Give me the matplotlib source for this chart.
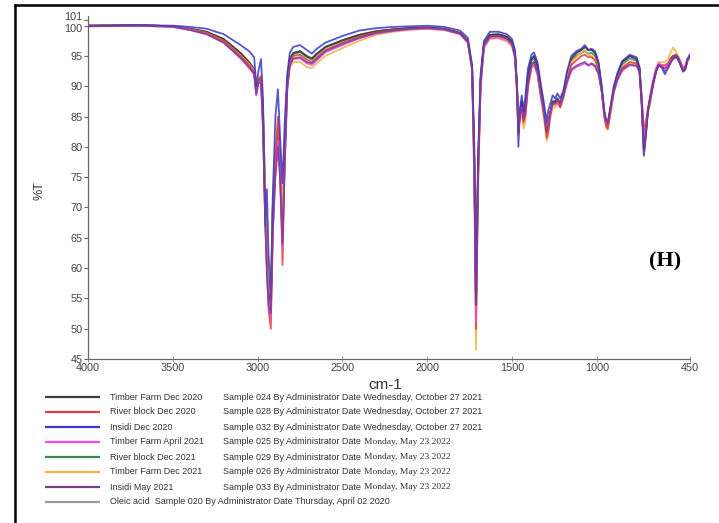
import matplotlib.pyplot as plt
from matplotlib.lines import Line2D
from matplotlib.transforms import ScaledTranslation

plt.rcParams['font.family'] = ['Liberation Sans', 'DejaVu Sans']

# FTIR spectra (%T against wavenumber, cm-1)
wavenumber = [
    4000, 3700, 3500, 3400, 3300, 3200, 3100, 3050, 3020, 3008,
    2995, 2980, 2968, 2955, 2945, 2935, 2922, 2910, 2895, 2880,
    2868, 2853, 2840, 2825, 2810, 2790, 2750, 2710, 2680, 2650,
    2600, 2500, 2400, 2300, 2200, 2100, 2000, 1900, 1806, 1760,
    1735, 1722, 1712, 1700, 1685, 1665, 1630, 1580, 1530, 1500,
    1482, 1470, 1462, 1452, 1442, 1432, 1422, 1405, 1385, 1370,
    1350, 1330, 1310, 1295, 1286, 1275, 1260, 1245, 1232, 1215,
    1195, 1175, 1150, 1120, 1090, 1070, 1050, 1030, 1010, 990,
    970, 955, 945, 935, 920, 900, 880, 850, 805, 765,
    748, 735, 722, 710, 698, 685, 668, 650, 635, 615,
    598, 580, 565, 550, 535, 520, 505, 490, 478, 465, 450]

timber_dec20 = [
    100.0, 100.1, 99.9, 99.5, 99.0, 97.8, 95.5, 94.0, 92.8, 89.5,
    91.0, 91.5, 86.0, 72.0, 62.0, 57.0, 54.0, 70.0, 78.0, 83.0,
    78.0, 66.0, 80.0, 91.0, 94.5, 95.5, 95.8, 95.0, 94.6, 95.4,
    96.5, 97.6, 98.5, 99.1, 99.4, 99.6, 99.7, 99.5, 98.8, 97.5,
    93.0, 78.0, 53.5, 76.0, 91.0, 97.0, 98.5, 98.6, 98.2, 97.4,
    95.5, 90.0, 82.5, 86.0, 87.5, 85.5, 86.5, 92.0, 94.5, 95.0,
    93.5, 89.5, 86.0, 82.5, 83.5, 85.5, 87.5, 87.5, 88.0, 87.2,
    89.0, 92.0, 94.5, 95.5, 96.0, 96.5, 96.0, 96.0, 95.5, 93.8,
    89.5, 85.5, 84.0, 83.5, 86.0, 89.5, 91.8, 94.0, 95.0, 94.5,
    93.0, 87.5, 79.5, 82.5, 86.0, 88.0, 90.5, 92.5, 93.5, 93.2,
    93.0, 93.5, 94.5, 95.0, 95.0, 94.5, 93.5, 92.5, 92.8, 94.2, 95.2]

river_dec20 = [
    100.0, 100.0, 99.9, 99.4, 98.8, 97.5, 95.0, 93.5, 92.3, 89.0,
    91.0, 91.5, 84.0, 68.0, 60.0, 53.0, 50.0, 66.0, 78.0, 85.0,
    79.0, 60.5, 78.0, 90.0, 94.0, 95.0, 95.2, 94.4, 94.0, 94.8,
    96.0, 97.2, 98.2, 98.9, 99.3, 99.5, 99.6, 99.4, 98.7, 97.3,
    93.0, 76.0, 50.0, 75.0, 90.5, 96.8, 98.2, 98.3, 97.8, 97.0,
    95.0, 89.5, 83.5, 86.0, 86.0, 84.0, 85.0, 90.5, 93.5, 94.0,
    92.5, 88.5, 85.0, 81.5, 82.5, 85.0, 87.0, 87.0, 87.5, 86.5,
    88.5, 91.0, 93.5, 94.3, 95.0, 95.2, 94.8, 94.8, 94.3, 92.8,
    89.0, 85.0, 83.5, 83.0, 85.5, 89.0, 91.0, 93.0, 94.0, 93.8,
    92.5, 88.0, 82.5, 84.0, 86.0, 87.5, 90.0, 92.5, 93.5, 93.5,
    93.5, 93.8, 94.5, 95.0, 95.2, 94.8, 94.0, 93.0, 93.2, 94.2, 94.8]

insidi_dec20 = [
    100.0, 100.1, 100.0, 99.8, 99.5, 98.6, 96.8, 95.8, 94.8, 90.0,
    92.5, 94.5, 88.0, 67.0, 73.0, 62.0, 55.0, 72.0, 85.0, 89.5,
    82.0, 74.0, 84.0, 92.0, 95.5, 96.5, 96.8, 96.0, 95.4, 96.2,
    97.2, 98.3, 99.2, 99.6, 99.8, 99.9, 100.0, 99.8, 99.2, 98.0,
    93.5, 80.0, 54.0, 78.0, 92.0, 97.5, 99.0, 99.0, 98.6, 97.8,
    96.0, 90.0, 80.0, 86.5, 88.5, 86.0, 88.0, 93.0, 95.2, 95.6,
    94.0, 90.5, 87.0, 84.0, 86.0, 87.0, 88.5, 88.0, 88.8, 88.0,
    89.5, 92.5, 95.0, 95.8, 96.2, 96.8, 96.0, 96.2, 95.8, 94.0,
    90.0, 86.0, 84.5, 84.0, 86.5, 90.0, 92.0, 94.2, 95.2, 94.8,
    93.2, 88.0, 78.8, 82.0, 86.0, 88.0, 90.5, 92.5, 93.5, 93.0,
    92.0, 93.0, 94.0, 94.5, 94.8, 94.5, 93.5, 92.5, 93.0, 94.5, 95.0]

timber_apr21 = [
    99.9, 100.0, 99.8, 99.3, 98.6, 97.2, 94.6, 93.0, 92.0, 88.8,
    90.5, 90.8, 83.0, 68.0, 60.0, 54.0, 52.0, 67.0, 76.0, 81.0,
    76.0, 63.0, 77.0, 89.5, 93.5, 94.5, 94.6, 93.8, 93.5, 94.3,
    95.6, 96.8, 97.9, 98.7, 99.1, 99.4, 99.5, 99.3, 98.6, 97.2,
    92.8, 75.0, 51.0, 74.0, 90.0, 96.5, 98.0, 98.0, 97.6, 96.8,
    94.8, 89.0, 84.0, 86.5, 86.5, 84.5, 85.0, 90.0, 93.0, 93.5,
    92.0, 88.5, 85.5, 83.0, 84.0, 85.5, 87.0, 87.0, 87.5, 87.0,
    88.5, 90.5, 92.5, 93.2, 93.5, 93.8, 93.4, 93.6, 93.2, 92.0,
    89.0, 85.5, 84.0, 83.8, 86.0, 89.0, 90.8, 92.5, 93.5, 93.3,
    92.3, 87.5, 81.0, 83.5, 86.5, 88.5, 91.0, 93.0, 93.8, 93.5,
    93.0, 93.5, 94.2, 94.5, 94.8, 94.5, 93.8, 93.0, 93.3, 94.5, 95.0]

river_dec21 = [
    100.0, 100.1, 99.9, 99.5, 98.9, 97.7, 95.3, 93.8, 92.6, 89.3,
    91.0, 91.3, 85.0, 71.0, 62.0, 57.0, 54.0, 70.0, 78.0, 82.5,
    77.5, 65.0, 79.5, 90.5, 94.3, 95.3, 95.6, 94.8, 94.4, 95.2,
    96.4, 97.5, 98.4, 99.0, 99.4, 99.6, 99.7, 99.5, 98.8, 97.5,
    93.0, 78.0, 53.0, 76.0, 91.0, 97.0, 98.4, 98.5, 98.1, 97.3,
    95.4, 89.8, 83.0, 86.0, 87.0, 85.0, 86.0, 91.5, 94.2, 94.6,
    93.2, 89.2, 85.8, 82.5, 83.5, 85.5, 87.3, 87.3, 87.8, 87.0,
    88.8, 91.5, 94.0, 95.0, 95.5, 95.8, 95.4, 95.5, 95.0, 93.4,
    89.3, 85.3, 83.8, 83.3, 85.8, 89.3, 91.5, 93.6, 94.6, 94.2,
    92.8, 87.8, 80.0, 83.0, 86.0, 88.0, 90.5, 92.5, 93.5, 93.3,
    93.0, 93.5, 94.5, 95.0, 95.0, 94.5, 93.5, 92.6, 92.9, 94.3, 95.2]

timber_dec21 = [
    100.0, 100.0, 99.9, 99.4, 98.8, 97.5, 95.1, 93.7, 92.6, 90.5,
    91.5, 91.8, 86.0, 73.0, 64.0, 58.0, 55.0, 72.0, 80.0, 84.0,
    79.0, 68.0, 81.0, 90.0, 93.0, 94.0, 94.0, 93.2, 93.0, 93.8,
    95.0, 96.3, 97.5, 98.5, 99.0, 99.3, 99.5, 99.3, 98.6, 97.2,
    92.5, 74.0, 46.5, 72.0, 89.5, 96.3, 97.8, 97.9, 97.4, 96.6,
    94.5, 88.0, 84.5, 85.5, 85.0, 83.0, 84.0, 89.5, 93.0, 93.5,
    92.0, 88.0, 84.5, 81.0, 82.0, 84.5, 86.5, 86.5, 87.2, 86.5,
    88.0, 91.5, 94.0, 94.8, 95.6, 96.0, 95.2, 95.0, 94.5, 93.0,
    88.8, 84.8, 83.2, 82.8, 85.2, 88.8, 91.2, 93.2, 94.0, 93.6,
    92.5, 88.5, 83.5, 84.5, 85.5, 87.0, 90.5, 93.0, 94.0, 94.0,
    94.0, 94.5, 95.5, 96.4, 95.8, 95.0, 94.0, 93.0, 93.5, 94.5, 95.0]

insidi_may21 = [
    99.9, 100.0, 99.8, 99.3, 98.6, 97.2, 94.7, 93.2, 92.0, 88.5,
    90.5, 90.8, 83.0, 68.0, 59.0, 54.0, 52.5, 66.0, 75.0, 80.0,
    75.0, 64.0, 77.0, 89.5, 93.5, 94.6, 94.8, 94.0, 93.8, 94.5,
    95.8, 97.0, 98.0, 98.8, 99.2, 99.5, 99.6, 99.4, 98.7, 97.3,
    93.0, 77.0, 54.0, 75.0, 90.5, 96.8, 98.2, 98.3, 97.9, 97.0,
    95.0, 89.5, 82.0, 85.5, 86.5, 84.5, 85.5, 90.5, 93.5, 94.0,
    92.5, 89.0, 85.5, 82.5, 83.5, 85.5, 87.2, 87.2, 87.8, 87.0,
    88.5, 90.8, 92.8, 93.4, 93.8, 94.0, 93.5, 93.8, 93.4, 92.2,
    89.2, 85.5, 84.2, 83.8, 86.2, 89.2, 91.0, 92.8, 93.6, 93.4,
    92.5, 87.0, 78.5, 82.0, 86.0, 88.0, 90.5, 92.5, 93.5, 93.2,
    92.5, 93.0, 93.8, 94.5, 95.2, 94.8, 93.5, 92.4, 92.8, 94.5, 95.2]

# oleic acid reference sits hidden under the sample traces
oleic_acid = list(timber_dec20)

sample_names = ['Timber Farm Dec 2020', 'River block Dec 2020', 'Insidi Dec 2020',
                'Timber Farm April 2021', 'River block Dec 2021', 'Timber Farm Dec 2021',
                'Insidi May 2021']
sample_info = ['Sample 024 By Administrator Date', 'Sample 028 By Administrator Date',
               'Sample 032 By Administrator Date', 'Sample 025 By Administrator Date',
               'Sample 029 By Administrator Date', 'Sample 026 By Administrator Date',
               'Sample 033 By Administrator Date']
sample_dates = ['Wednesday, October 27 2021', 'Wednesday, October 27 2021',
                'Wednesday, October 27 2021', 'Monday, May 23 2022', 'Monday, May 23 2022',
                'Monday, May 23 2022', 'Monday, May 23 2022']
oleic_label = 'Oleic acid  Sample 020 By Administrator Date Thursday, April 02 2020'

series = [timber_dec20, river_dec20, insidi_dec20, timber_apr21,
          river_dec21, timber_dec21, insidi_may21]
colors = ['#3a3a3a', '#e8383d', '#3838c8', '#e850e8', '#3c8c48', '#f5b042', '#7d3c8e']
oleic_color = '#9a9a9a'

fig = plt.figure(figsize=(7.19, 5.23), dpi=100)
ax = fig.add_axes([88 / 719, 1 - 359 / 523, 602 / 719, 343 / 523])

# drawing order so that the deeper traces land on top like the scan
ax.plot(wavenumber, oleic_acid, color=oleic_color, lw=1.3)
for i in [4, 0, 5, 1, 3, 2, 6]:
    ax.plot(wavenumber, series[i], color=colors[i], lw=1.3, alpha=0.85)

ax.set_xlim(4000, 450)
ax.set_ylim(45, 101.6)
ax.set_xticks([4000, 3500, 3000, 2500, 2000, 1500, 1000, 450])
ax.set_yticks([45, 50, 55, 60, 65, 70, 75, 80, 85, 90, 95, 100, 101])
for side in ['top', 'right']:
    ax.spines[side].set_visible(False)
for side in ['left', 'bottom']:
    ax.spines[side].set_color('#666666')
    ax.spines[side].set_linewidth(0.9)
ax.tick_params(axis='y', labelsize=7.8, labelcolor='#444444', color='#666666',
               length=3, width=0.8, pad=1)
ax.tick_params(axis='x', labelsize=7.8, labelcolor='#444444', color='#888888',
               direction='inout', length=4, width=0.6, pad=1)
ylabs = ax.get_yticklabels()
ylabs[-1].set_transform(ylabs[-1].get_transform() + ScaledTranslation(0, 4 / 100, fig.dpi_scale_trans))
ylabs[-2].set_transform(ylabs[-2].get_transform() + ScaledTranslation(0, -2 / 100, fig.dpi_scale_trans))

ax.set_ylabel('%T', fontsize=9, color='#333333')
ax.yaxis.set_label_coords(-0.07, 0.49)
ax.set_xlabel('cm-1', fontsize=11, color='#333333')
ax.xaxis.set_label_coords(0.493, -0.055)
ax.text(0.958, 0.283, '(H)', transform=ax.transAxes, ha='center', va='center',
        fontsize=16, fontweight='bold', family=['Liberation Serif', 'DejaVu Serif'])

# legend block below the axes, in pixel coordinates
lax = fig.add_axes([0, 0, 1, 1])
lax.set_xlim(0, 719)
lax.set_ylim(523, 0)
lax.axis('off')
row_y = [397, 412, 427, 442, 457, 472, 487, 502]
for i in range(7):
    lax.plot([45, 100], [row_y[i], row_y[i]], color=colors[i], lw=1.6, solid_capstyle='butt')
    lax.text(110, row_y[i], sample_names[i], fontsize=6.5, color='#333333', va='center')
    if i < 3:
        lax.text(223, row_y[i], sample_info[i] + ' ' + sample_dates[i], fontsize=6.5,
                 color='#333333', va='center')
    else:
        t = lax.text(223, row_y[i], sample_info[i], fontsize=6.5, color='#333333', va='center')
        lax.annotate(sample_dates[i], xy=(1, 0.02), xycoords=t, xytext=(2.5, 0),
                     textcoords='offset points', va='bottom', ha='left', fontsize=6.8,
                     color='#333333', family=['Liberation Serif'])
lax.plot([45, 100], [row_y[7], row_y[7]], color=oleic_color, lw=1.6, solid_capstyle='butt')
lax.text(110, row_y[7], oleic_label, fontsize=6.5, color='#333333', va='center')

# outer frame (left and top edges visible in the source)
fig.add_artist(Line2D([15 / 719, 15 / 719], [0, 1 - 5 / 523], color='black', lw=1.8))
fig.add_artist(Line2D([15 / 719, 1], [1 - 5 / 523, 1 - 5 / 523], color='black', lw=1.8))

fig.savefig('out.png', dpi=100)
